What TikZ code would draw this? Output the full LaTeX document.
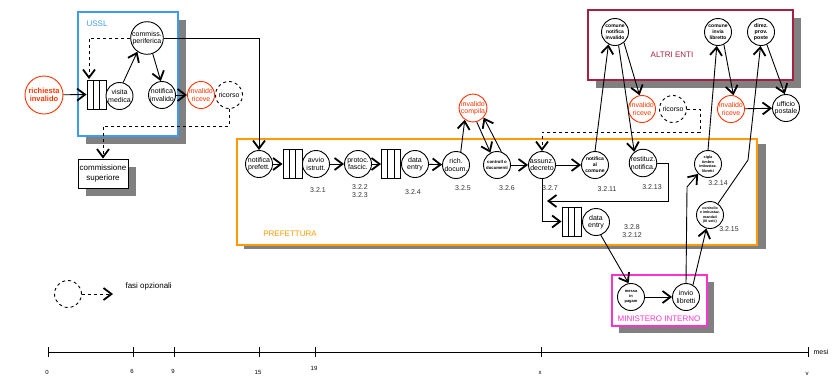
\documentclass[tikz,border=0pt]{standalone}
\usepackage{fontspec}
\setmainfont{Liberation Sans}
\usetikzlibrary{arrows.meta,backgrounds}
\definecolor{cred}{HTML}{FF3300}
\definecolor{cblue}{HTML}{3D9BF0}
\definecolor{corange}{HTML}{FF9A00}
\definecolor{ccrim}{HTML}{A8203F}
\definecolor{cmag}{HTML}{FF33CC}
\definecolor{cshadow}{HTML}{808080}
\tikzset{
  proc/.style={circle,draw,line width=0.9pt,fill=white,minimum size=27pt,inner sep=0pt,align=center,font=\fontsize{7}{7.5}\selectfont},
  redproc/.style={proc,draw=cred,text=cred},
  optproc/.style={proc,dashed},
  tinyb/.style={font=\fontsize{4.3}{5.2}\selectfont\bfseries},
  smallb/.style={font=\fontsize{5}{6}\selectfont\bfseries},
  store/.style={draw,line width=0.9pt,fill=white,minimum width=19pt,minimum height=29pt,inner sep=0pt,
    path picture={\draw[line width=0.9pt] ([xshift=6.3pt]path picture bounding box.north west) -- ([xshift=6.3pt]path picture bounding box.south west);
                  \draw[line width=0.9pt] ([xshift=-6.3pt]path picture bounding box.north east) -- ([xshift=-6.3pt]path picture bounding box.south east);}},
  conn/.style={line width=0.9pt,->},
  dconn/.style={line width=0.9pt,->,dashed},
  num/.style={font=\fontsize{7}{8}\selectfont,align=center,text=black!80},
  boxlabel/.style={font=\fontsize{8}{9}\selectfont},
  tick/.style={font=\fontsize{6}{7}\selectfont},
}
\begin{document}
\begin{tikzpicture}[x=1pt,y=-1pt,>={Straight Barb[length=8pt,width=12pt,line width=1.8pt]}]
\useasboundingbox (0,0) rectangle (837,376);

% ---------- nodes: USSL
\node[proc,draw=cred,text=cred,minimum size=38pt,font=\fontsize{7.5}{8.5}\selectfont\bfseries] (ri) at (44,95) {richiesta\\invalido};
\node[store] (bars1) at (96.5,94.5) {};
\node[proc] (vm) at (119.5,96) {visita\\medica};
\node[proc,minimum size=28pt] (comm) at (147,38) {commiss.\\periferica};
\node[proc] (ni) at (162,95) {notifica\\invalido};
\node[redproc] (ir1) at (201,95) {invalido\\riceve};
\node[optproc] (ric1) at (229,95) {ricorso};
\node[draw,line width=0.9pt,fill=white,minimum width=50pt,minimum height=29pt,inner sep=0pt,align=center,font=\fontsize{8}{9.5}\selectfont] (cs) at (103,173.5) {commissione\\superiore};

% ---------- PREFETTURA
\node[proc] (np) at (259,164) {notifica\\prefett.};
\node[store] (bars2) at (292.5,164) {};
\node[proc] (ai) at (316,164) {avvio\\istrutt.};
\node[proc] (pf) at (358,164) {protoc.\\fascic.};
\node[store] (bars3) at (391,164) {};
\node[proc] (de1) at (415,164) {data\\entry};
\node[proc] (rd) at (456,165) {rich.\\docum.};
\node[proc,tinyb] (cd) at (497,165) {controll o\\documenti};
\node[proc] (ad) at (542,165) {assunz.\\decreto};
\node[proc,smallb] (nac) at (595,165) {notifica\\al\\comune};
\node[proc] (rest) at (643,163) {restituz.\\notifica.};
\node[proc,tinyb,font=\fontsize{3.8}{4.6}\selectfont\bfseries] (sigla) at (708,164) {sigla\\timbro\\imbustaz.\\libretti};
\node[store] (bars4) at (571.5,221.5) {};
\node[proc] (de2) at (596,222) {data\\entry};
\node[proc,font=\fontsize{3.6}{4.4}\selectfont\bfseries] (ctrl) at (710,215) {controllo\\e imbustaz.\\mandati\\(III sett.)};
\node[redproc] (ic) at (473,108) {invalido\\compila};

\node[num] (n1) at (318,190) {3.2.1};
\node[num] (n2) at (360,191) {3.2.2\\3.2.3};
\node[num] (n3) at (413,192) {3.2.4};
\node[num] (n4) at (463,188) {3.2.5};
\node[num] (n5) at (507,188) {3.2.6};
\node[num] (n6) at (550,188) {3.2.7};
\node[num] (n7) at (607,189) {3.2.11};
\node[num] (n8) at (652,187) {3.2.13};
\node[num] (n9) at (632,231) {3.2.8\\3.2.12};
\node[num] (n10) at (718,183) {3.2.14};
\node[num] (n11) at (729,229) {3.2.15};

% ---------- ALTRI ENTI
\node[proc,smallb] (cni) at (615,32) {comune\\notifica\\invalido};
\node[proc,smallb] (cil) at (718,32) {comune\\invia\\libretto};
\node[proc,smallb,font=\fontsize{5.3}{6.3}\selectfont\bfseries] (dir) at (761,32) {direz.\\prov.\\poste};
\node[redproc] (ir2) at (642,109) {invalido\\riceve};
\node[optproc] (ric2) at (673,109) {ricorso};
\node[redproc] (ir3) at (731,109) {invalido\\riceve};
\node[proc] (up) at (786,108) {ufficio\\postale};

% ---------- MINISTERO
\node[proc,font=\fontsize{4}{5}\selectfont\bfseries] (messa) at (631,297) {messa\\in\\pagam};
\node[proc] (inv) at (686,297) {invio\\libretti};

% ---------- legend
\node[optproc] (leg) at (68,294) {};
\coordinate (legend end) at (113,294);
\node[font=\fontsize{8}{9}\selectfont,anchor=west] (legtxt) at (122,286) {fasi opzionali};

% ---------- boxes on background
\begin{scope}[on background layer]
  \fill[cshadow] (86,20) rectangle (186,144);
  \draw[cblue,line width=2.5pt,fill=white] (78,12) rectangle (178,136);
  \fill[cshadow] (86,167) rectangle (136,196);
  \fill[cshadow] (244,144) rectangle (766,249);
  \draw[corange,line width=2.5pt,fill=white] (237,139) rectangle (757,245);
  \fill[cshadow] (596,18) rectangle (801,88);
  \draw[ccrim,line width=2.5pt,fill=white] (588,10) rectangle (793,80);
  \fill[cshadow] (619,282) rectangle (714,333);
  \draw[cmag,line width=2.2pt,fill=white] (612,275) rectangle (707,326);
\end{scope}
\node[boxlabel,text=cblue] (lussl) at (97,24) {USSL};
\node[boxlabel,text=corange] (lpref) at (290,234) {PREFETTURA};
\node[boxlabel,text=ccrim] (laltri) at (672,55) {ALTRI ENTI};
\node[boxlabel,text=cmag] (lmin) at (659,319) {MINISTERO INTERNO};

% ---------- connectors USSL
\draw[conn] (ri) -- (bars1.west);
\draw[conn] (vm.75) -- (comm.235);
\draw[conn] (comm.290) -- (ni.95);
\draw[conn] (ni) -- (ir1);
\coordinate (k0) at (89,38);
\coordinate (k0b) at (89,79);
\draw[dconn] (comm.west) -- (k0) -- (k0b);
\coordinate (k1) at (229,126);
\draw[dconn] (ric1.south) -- (k1) -| (cs.north);
\draw[conn] (comm.east) -| (np.north);

% ---------- connectors PREFETTURA
\draw[conn] (np) -- (bars2.west);
\draw[conn] (ai) -- (pf);
\draw[conn] (pf) -- (bars3.west);
\draw[conn] (de1) -- (rd);
\draw[conn] (rd.70) -- (ic.235);
\draw[conn] (ic.285) -- (cd.118);
\draw[conn] (cd.72) -- (ic.318);
\draw[conn] (cd) -- (ad);
\draw[conn] (ad) -- (nac);
\coordinate (k4) at (668,201);
\coordinate (k5) at (547,201);
\draw[conn] (rest.east) -| (k4) -- (k5);
\draw[conn] (ad.south) |- (bars4.west);
\coordinate (k3) at (700,132);
\draw[dconn] (ric2.east) -| (k3) -| (ad.north);

% ---------- connectors ALTRI ENTI
\draw[conn] (nac.north) -- (cni.242);
\draw[conn] (cni.285) -- (rest.128);
\draw[conn] (cni.310) -- (ir2.100);
\draw[conn] (sigla.north) -- (cil.265);
\draw[conn] (cil.295) -- (ir3.80);
\coordinate (k6) at (748,160);
\draw[conn] (ctrl.55) -- (k6) -- (dir.268);
\draw[conn] (dir.295) -- (up.95);
\draw[conn] (ir3) -- (up);

% ---------- MINISTERO
\draw[conn] (de2.290) -- (messa.100);
\draw[conn] (messa) -- (inv);
\coordinate (k7) at (687,187);
\draw[conn] (inv.north) -- (k7) -- (sigla.225);
\draw[conn] (inv.60) -- (ctrl.255);

% ---------- legend arrow
\draw[dconn] (leg.east) -- (legend end);

% ---------- timeline
\coordinate (t0) at (48,352);
\coordinate (t1) at (808,352);
\draw[line width=0.9pt] (t0) -- (t1);
\foreach \x/\lab/\ly in {48/0/372,133/6/371,174/9/371,259/15/372,315/19/368,541/x/373,808/v/374}{
  \draw[line width=0.9pt] (\x,347) -- (\x,357);
  \node[tick] at (\x-1,\ly) {\lab};
}
\node[tick,font=\fontsize{7}{8}\selectfont,anchor=west] (mesi) at (810,352) {mesi};
\end{tikzpicture}
\end{document}
